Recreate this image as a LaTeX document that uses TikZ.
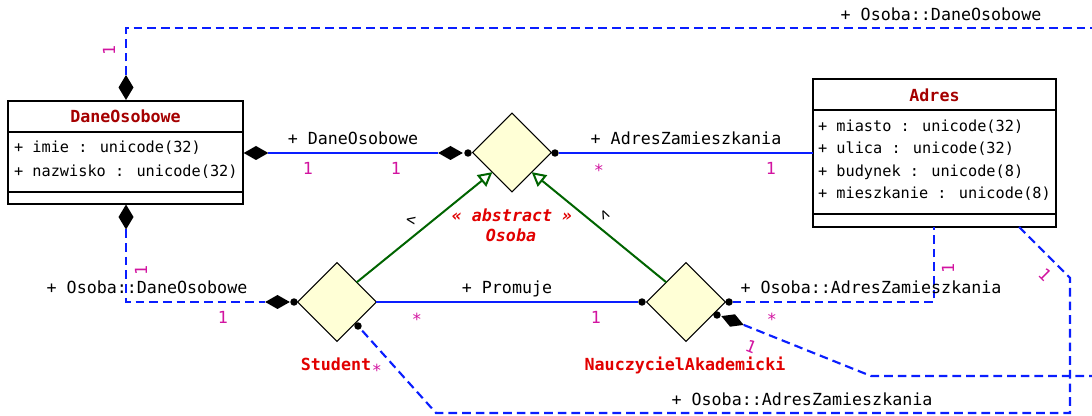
\documentclass[tikz,border=0pt]{standalone}
\usepackage{fontspec}
\setmainfont{DejaVu Sans Mono}[BoldFont={DejaVu Sans Mono Bold},ItalicFont={DejaVu Sans Mono Oblique},BoldItalicFont={DejaVu Sans Mono Bold Oblique}]
\usetikzlibrary{shapes.geometric,arrows.meta}
\definecolor{lineblue}{RGB}{10,30,255}
\definecolor{multmag}{RGB}{210,20,160}
\definecolor{titlered}{RGB}{165,0,0}
\definecolor{namered}{RGB}{225,0,0}
\definecolor{genGreen}{RGB}{0,100,0}
\definecolor{assocfill}{RGB}{255,255,214}
\begin{document}
\begin{tikzpicture}[x=0.75pt,y=-0.75pt,
  every node/.style={inner sep=0pt,outer sep=0pt},
  lbl/.style={font=\fontsize{12.5}{14}\selectfont,text height=9pt,text depth=0pt},
  attr/.style={font=\fontsize{11.45}{14}\selectfont,text height=8.3pt,text depth=0pt,anchor=west},
  mult/.style={lbl,text=multmag},
  ctitle/.style={font=\bfseries\fontsize{12.5}{14}\selectfont,text=titlered,text height=9pt,text depth=0pt},
  cname/.style={font=\bfseries\fontsize{12.5}{14}\selectfont,text=namered,text height=9pt,text depth=0pt},
  absn/.style={font=\bfseries\itshape\fontsize{12.5}{14}\selectfont,text=namered,text height=9pt,text depth=0pt},
  tick/.style={font=\fontsize{12}{14}\selectfont,text height=8pt,text depth=0pt},
  classbox/.style={draw=black,line width=0.8pt,fill=white},
  sepline/.style={draw=black,line width=0.8pt},
  assoc/.style={diamond,draw=black,line width=0.8pt,fill=assocfill,minimum width=59pt,minimum height=59pt,inner sep=0pt},
  compv/.style={diamond,fill=black,inner sep=0pt,minimum width=11.25pt,minimum height=18.75pt},
  comph/.style={diamond,fill=black,inner sep=0pt,minimum width=18.5pt,minimum height=10.5pt},
  dotn/.style={circle,fill=black,minimum size=5.6pt,inner sep=0pt},
  solidln/.style={draw=lineblue,line width=1.6pt},
  dashln/.style={draw=lineblue,line width=1.6pt,dash pattern=on 6.5pt off 3.75pt},
  gen/.style={draw=genGreen,line width=1.5pt,-{Triangle[open,length=10.5pt,width=11pt]}}
]
\path[use as bounding box] (0,0) rectangle (1092,416);

% classes
\node[classbox,minimum width=176.25pt,minimum height=77.25pt] (dane) at (125.5,152.5) {};
\node[ctitle] (daneT) at (125.5,117) {DaneOsobowe};
\draw[sepline] (8,132) -- (243,132);
\draw[sepline] (8,192) -- (243,192);
\node[attr] (daneA1) at (14,147) {+ imie : unicode(32)};
\node[attr] (daneA2) at (14,171) {+ nazwisko : unicode(32)};

\node[classbox,minimum width=182.25pt,minimum height=111pt] (adres) at (934.5,153) {};
\node[ctitle] (adresT) at (934.5,96) {Adres};
\draw[sepline] (813,110) -- (1056,110);
\draw[sepline] (813,214) -- (1056,214);
\node[attr] (adresA1) at (818,126) {+ miasto : unicode(32)};
\node[attr] (adresA2) at (818,148) {+ ulica : unicode(32)};
\node[attr] (adresA3) at (818,171) {+ budynek : unicode(8)};
\node[attr] (adresA4) at (818,193) {+ mieszkanie : unicode(8)};

% association diamonds
\node[assoc] (osoba) at (512,152.5) {};
\node[assoc] (stud) at (337,302) {};
\node[assoc] (naucz) at (686,302) {};

% composition diamonds and dots
\node[compv] (cd1) at (126,87.5) {};
\node[compv] (cd2) at (126,217) {};
\node[comph] (cd4) at (256,153) {};
\node[comph] (cd5) at (450.5,153) {};
\node[comph] (cd3) at (277.5,302) {};
\node[diamond,fill=black,inner sep=0pt,minimum width=18pt,minimum height=10pt,rotate=-21.5] (cd6) at (732.5,320.5) {};
\node[dotn] (d1) at (468,153) {};
\node[dotn] (d2) at (555,153) {};
\node[dotn] (d3) at (294,302) {};
\node[dotn] (d4) at (642,302) {};
\node[dotn] (d5) at (729,302) {};
\node[dotn] (d6) at (717,315) {};
\node[dotn] (d7) at (358,326) {};

% free coordinates
\coordinate (topend) at (1092,28);
\coordinate (adresB1) at (934,227);
\coordinate (adresB2) at (1019,227);
\coordinate (bendA) at (1070,278);
\coordinate (bendB) at (1070,413);
\coordinate (bendC) at (436,413);
\coordinate (bendD) at (871,376);
\coordinate (rend) at (1092,376);

% connectors
\draw[dashln] (cd1.north) |- (topend);
\draw[solidln] (cd4.east) -- (cd5.west);
\draw[solidln] (d2.east) -- (adres.west);
\draw[dashln] (cd2.south) |- (cd3.west);
\draw[solidln] (stud.east) -- (d4.west);
\draw[dashln] (d5.east) -| (adresB1);
\draw[dashln] (cd6.east) -- (bendD) -- (rend);
\draw[dashln] (adresB2) -- (bendA) -- (bendB) -- (bendC) -- (d7);
\draw[gen] (stud.north east) -- (osoba.south west);
\draw[gen] (naucz.north west) -- (osoba.south east);

% labels
\node[lbl] (lTop) at (941,15) {+ Osoba::DaneOsobowe};
\node[mult,rotate=90] (m1) at (109,50) {1};
\node[lbl] (lDO) at (353,139) {+ DaneOsobowe};
\node[mult] (m2) at (308,169) {1};
\node[mult] (m3) at (396,169) {1};
\node[lbl] (lAZ) at (686,139) {+ AdresZamieszkania};
\node[mult] (m4) at (599,171) {*};
\node[mult] (m5) at (771,169) {1};
\node[mult,rotate=90] (m6) at (141,270) {1};
\node[lbl] (lODO) at (147,288) {+ Osoba::DaneOsobowe};
\node[mult] (m7) at (223,318) {1};
\node[lbl] (lPr) at (507,288) {+ Promuje};
\node[mult] (m8) at (417,320) {*};
\node[mult] (m9) at (596,318) {1};
\node[cname] (nStud) at (336,365) {Student};
\node[mult] (m10) at (377,371) {*};
\node[cname] (nNa) at (685,365) {NauczycielAkademicki};
\node[absn] (abs1) at (512,216) {« abstract »};
\node[absn] (abs2) at (511,236) {Osoba};
\node[tick,rotate=-10] (t1) at (411,220) {<};
\node[tick,rotate=-65] (t2) at (605,215) {<};
\node[lbl] (lOAZ1) at (871,288) {+ Osoba::AdresZamieszkania};
\node[mult] (m11) at (772,320) {*};
\node[mult,rotate=90] (m12) at (948,268) {1};
\node[mult,rotate=-21.5] (m13) at (751,347) {1};
\node[mult,rotate=-45] (m14) at (1045,275) {1};
\node[lbl] (lOAZ2) at (802,400) {+ Osoba::AdresZamieszkania};
\end{tikzpicture}
\end{document}
